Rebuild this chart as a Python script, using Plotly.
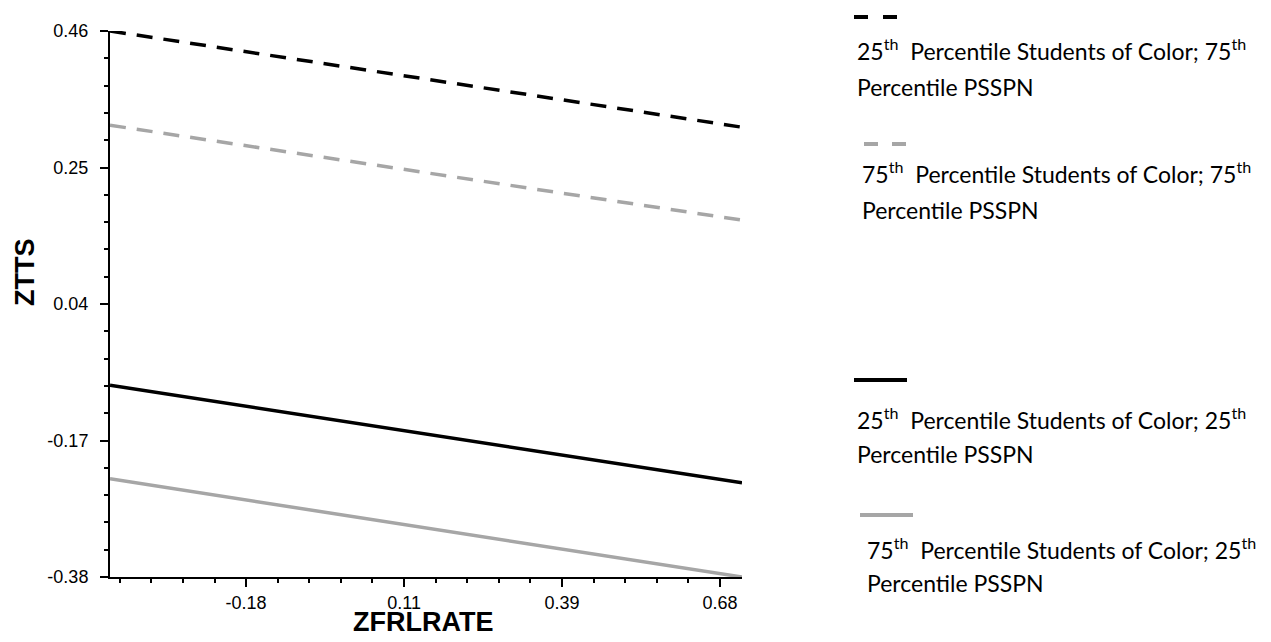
import plotly.graph_objects as go

# ---------------- data ----------------
x_ends = [-0.427, 0.72]
y_25soc_75psspn = [0.460, 0.312]
y_75soc_75psspn = [0.315, 0.169]
y_25soc_25psspn = [-0.085, -0.235]
y_75soc_25psspn = [-0.229, -0.380]

x_tickvals = [-0.18, 0.10667, 0.39333, 0.68]
x_ticktext = ["-0.18", "0.11", "0.39", "0.68"]
y_tickvals = [-0.38, -0.17, 0.04, 0.25, 0.46]
y_ticktext = ["-0.38", "-0.17", "0.04", "0.25", "0.46"]

series_names = [
    "25<sup>th</sup>  Percentile Students of Color; 75<sup>th</sup>",
    "75<sup>th</sup>  Percentile Students of Color; 75<sup>th</sup>",
    "25<sup>th</sup>  Percentile Students of Color; 25<sup>th</sup>",
    "75<sup>th</sup>  Percentile Students of Color; 25<sup>th</sup>",
]
second_line = "Percentile PSSPN"

# ---------------- layout geometry (reference-window pixels) ----------------
OFF = 8                      # page body margin
W, H = 1271 - 2 * OFF, 642 - 2 * OFF
L, R, T, B = 110, 742, 31, 577


def px(xp):
    return (xp - L) / (R - L)


def py(yp):
    return (B - yp) / (B - T)


GRAY = "#a6a6a6"
BLACK = "#000000"

fig = go.Figure()
styles = [
    (y_25soc_75psspn, BLACK, "16px,11px"),
    (y_75soc_75psspn, GRAY, "16px,11px"),
    (y_25soc_25psspn, BLACK, "solid"),
    (y_75soc_25psspn, GRAY, "solid"),
]
for (ys, col, dash), name in zip(styles, series_names):
    fig.add_trace(go.Scatter(x=x_ends, y=ys, mode="lines", name=name,
                             line=dict(color=col, width=3.5, dash=dash),
                             showlegend=False, hoverinfo="skip"))

axis_common = dict(
    showgrid=False, zeroline=False, showline=True, linecolor="black", linewidth=2,
    ticks="outside", ticklen=8, tickwidth=2, tickcolor="black",
    tickfont=dict(family="Liberation Sans, Arial", size=18, color="black"),
)

fig.update_xaxes(range=[x_ends[0], x_ends[1]], tickmode="array",
                 tickvals=x_tickvals, ticktext=x_ticktext,
                 minor=dict(ticks="outside", ticklen=4, tickwidth=2, tickcolor="black",
                            tick0=-0.18, dtick=(x_tickvals[1] - x_tickvals[0]) / 5),
                 ticklabelstandoff=0, **axis_common)
fig.update_yaxes(range=[y_tickvals[0], y_tickvals[-1]], tickmode="array",
                 tickvals=y_tickvals, ticktext=y_ticktext,
                 minor=dict(ticks="outside", ticklen=4, tickwidth=2, tickcolor="black",
                            tick0=-0.38, dtick=0.042),
                 ticklabelstandoff=8, **axis_common)

annotations = []
# axis titles
annotations.append(dict(text="<b>ZFRLRATE</b>", x=px(423), y=py(622), xref="paper", yref="paper",
                        showarrow=False, xanchor="center", yanchor="middle", height=22,
                        font=dict(family="Liberation Sans, Arial", size=27, color="black")))
annotations.append(dict(text="<b>ZTTS</b>", x=px(25), y=py(272), xref="paper", yref="paper",
                        showarrow=False, xanchor="center", yanchor="middle", textangle=-90,
                        font=dict(family="Liberation Sans, Arial", size=27, color="black")))

# custom legend (sample line above two lines of text)
leg = [
    # (line y, line x0, x1, color, dash, text x, line1 y, line2 y)
    (17, 854, 898, BLACK, "14px,15px", 855, 49, 87),
    (144, 864, 908, GRAY, "14px,14px", 860, 173, 210),
    (380, 854, 907, BLACK, "solid", 855, 419, 454),
    (515, 860, 913, GRAY, "solid", 865, 548, 583),
]
shapes = []
for (ly, x0, x1, col, dash, tx, y1, y2), name in zip(leg, series_names):
    shapes.append(dict(type="line", xref="paper", yref="paper", x0=px(x0), x1=px(x1),
                       y0=py(ly), y1=py(ly), line=dict(color=col, width=4, dash=dash)))
    for txt, yy in ((name, y1), (second_line, y2)):
        annotations.append(dict(text=txt, x=px(tx), y=py(yy), xref="paper", yref="paper",
                                showarrow=False, xanchor="left", yanchor="middle",
                                font=dict(family="Lato", size=23, color="black")))

fig.update_layout(
    width=W, height=H, autosize=False,
    margin=dict(l=L - OFF, r=W - (R - OFF), t=T - OFF, b=H - (B - OFF), pad=0),
    paper_bgcolor="white", plot_bgcolor="white",
    showlegend=False, annotations=annotations, shapes=shapes,
)

fig.write_html("out.html")
